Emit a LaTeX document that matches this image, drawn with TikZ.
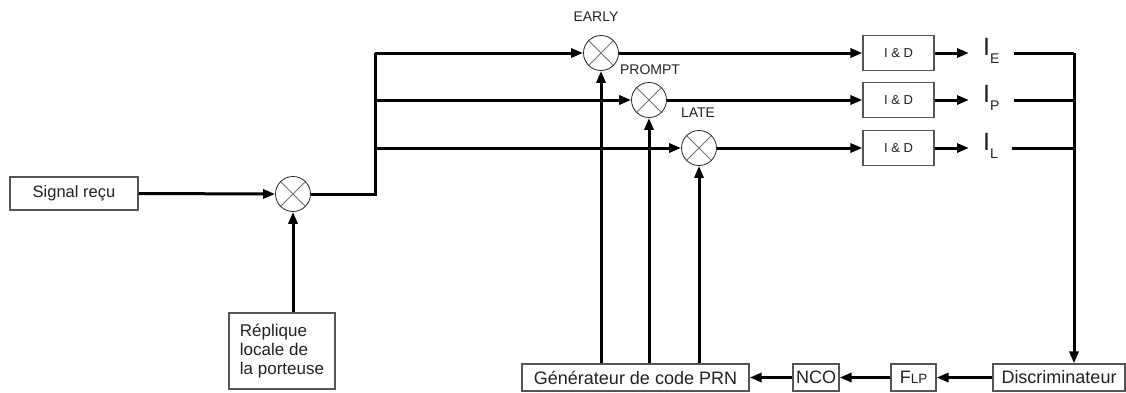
\documentclass[tikz,border=0pt]{standalone}
\usepackage{fontspec}
\setmainfont{Liberation Sans}
\usetikzlibrary{arrows.meta}
\definecolor{txt}{HTML}{222222}
\definecolor{edge}{HTML}{555555}
\begin{document}
\begin{tikzpicture}[x=1pt,y=-1pt,
  box/.style={draw=edge, line width=1.2pt, fill=white, inner sep=0pt, text=txt},
  mixer/.style={draw=black!85, line width=0.8pt, circle, minimum size=35pt, inner sep=0pt, fill=white,
    path picture={\draw[black!55, line width=0.8pt]
      (path picture bounding box.south west) -- (path picture bounding box.north east)
      (path picture bounding box.north west) -- (path picture bounding box.south east);}},
  wire/.style={line width=3pt, black, line join=miter},
  arr/.style={wire, -{Triangle[length=12pt,width=9pt]}},
  lbl/.style={text=txt, inner sep=0pt, font=\fontsize{14}{14}\selectfont},
  idbox/.style={box, minimum width=71pt, minimum height=35pt, font=\fontsize{13}{13}\selectfont},
  outlbl/.style={text=txt, inner xsep=14pt, inner ysep=0pt, anchor=base west},
  lowbox/.style={box, minimum height=27pt, font=\fontsize{18}{18}\selectfont}
]
\useasboundingbox (0,0) rectangle (1126,392);

% left part
\node[box, minimum width=128pt, minimum height=33pt, font=\fontsize{16.5}{16.5}\selectfont] (sig) at (74,193.5) {Signal reçu};
\node[mixer] (m0) at (293,194) {};
\node[box, minimum width=106pt, minimum height=76pt, align=left, font=\fontsize{17}{19}\selectfont] (rep) at (282,351) {Réplique\\locale de\\la porteuse};

\draw[arr] (sig.east) -- (m0.west);
\draw[arr] (rep.north -| m0) -- (m0.south);

% correlator mixers
\node[mixer] (me) at (601,53) {};
\node[mixer] (mp) at (649,100) {};
\node[mixer] (ml) at (699,148) {};
\node[lbl] (le) at (596,17) {EARLY};
\node[lbl] (lp) at (650,70) {PROMPT};
\node[lbl] (ll) at (698,113) {LATE};

\coordinate (jn) at (375,53);
\draw[wire] (m0.east) -| (jn);
\draw[arr] (jn) -- (me.west);
\draw[arr] (jn |- mp) -- (mp.west);
\draw[arr] (jn |- ml) -- (ml.west);

% integrate and dump
\node[idbox] (ide) at (898.5,53) {I \& D};
\node[idbox] (idp) at (898.5,100) {I \& D};
\node[idbox] (idl) at (898.5,148) {I \& D};
\draw[arr] (me.east) -- (ide.west);
\draw[arr] (mp.east) -- (idp.west);
\draw[arr] (ml.east) -- (idl.west);

\node[outlbl] (ie) at (969,55) {{\fontsize{25}{25}\selectfont I}\raisebox{-8pt}{\fontsize{14}{14}\selectfont E}};
\node[outlbl] (ip) at (969,102) {{\fontsize{25}{25}\selectfont I}\raisebox{-8pt}{\fontsize{14}{14}\selectfont P}};
\node[outlbl] (il) at (969,150) {{\fontsize{25}{25}\selectfont I}\raisebox{-8pt}{\fontsize{14}{14}\selectfont L}};
\draw[arr] (ide.east) -- (ide.east -| ie.west);
\draw[arr] (idp.east) -- (idp.east -| ip.west);
\draw[arr] (idl.east) -- (idl.east -| il.west);

% bottom chain
\node[lowbox, minimum width=132pt] (disc) at (1059,377.5) {Discriminateur};
\node[lowbox, minimum width=45pt] (flp) at (913.5,377.5) {{\fontsize{18}{18}\selectfont F}{\fontsize{13.5}{13.5}\selectfont LP}};
\node[lowbox, minimum width=46pt] (nco) at (816,377.5) {NCO};
\node[lowbox, minimum width=227pt] (gen) at (635.5,377.5) {Générateur de code PRN};

\coordinate (bus) at (1074,53);
\draw[wire] (ie.east |- ide) -- (bus);
\draw[wire] (ip.east |- idp) -- (bus |- idp);
\draw[wire] (il.east |- idl) -- (bus |- idl);
\draw[arr] (bus) -- (disc.north -| bus);

\draw[arr] (disc.west) -- (flp.east);
\draw[arr] (flp.west) -- (nco.east);
\draw[arr] (nco.west) -- (gen.east);

\draw[arr] (gen.north -| me) -- (me.south);
\draw[arr] (gen.north -| mp) -- (mp.south);
\draw[arr] (gen.north -| ml) -- (ml.south);
\end{tikzpicture}
\end{document}
